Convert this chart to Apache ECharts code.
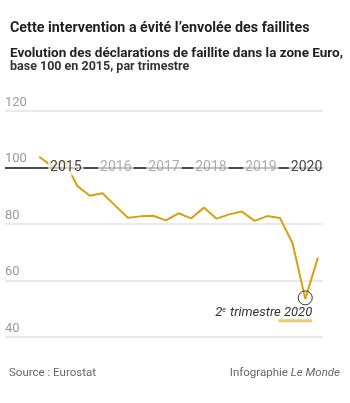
<!DOCTYPE html>
<html>
<head>
<meta charset="utf-8">
<script src="https://cdn.jsdelivr.net/npm/echarts@6/dist/echarts.min.js"></script>
<style>
  html, body { margin: 0; padding: 0; background: #fff; }
  #chart { width: 350px; height: 403px; }
</style>
</head>
<body>
<div id="chart"></div>
<script>
// Indice des déclarations de faillite, base 100 en 2015, par trimestre
const quarters = ['2015T1', '2015T2', '2015T3', '2015T4',
  '2016T1', '2016T2', '2016T3', '2016T4',
  '2017T1', '2017T2', '2017T3', '2017T4',
  '2018T1', '2018T2', '2018T3', '2018T4',
  '2019T1', '2019T2', '2019T3', '2019T4',
  '2020T1', '2020T2', '2020T3'];
const faillites = [103.8, 100.5, 102.3, 93.5,
  90.0, 90.9, 86.5, 82.2,
  82.7, 82.9, 81.3, 83.8,
  82.0, 85.8, 81.9, 83.4,
  84.4, 81.1, 82.8, 82.1,
  73.2, 53.5, 68.1];

// Libellés des années posés sur la ligne 100 (position en trimestres)
const yearLabels = ['2015', '2016', '2017', '2018', '2019', '2020'];
const yearPos = [2.1, 6.05, 9.85, 13.55, 17.5, 21.1];
const yearColors = ['#111', '#999', '#999', '#999', '#999', '#111'];

const yTicks = [40, 60, 80, 100, 120];
const minIndex = 21; // 2e trimestre 2020

const FONT = 'Roboto, sans-serif';
const GOLD = '#d4a20c';

const chart = echarts.init(document.getElementById('chart'));

const lineData = faillites.map((v, i) => [i, v]);
const yearData = yearLabels.map((y, i) => ({
  name: y,
  value: [yearPos[i], 100],
  label: { color: yearColors[i] }
}));

chart.setOption({
  animation: false,
  title: [
    {
      text: 'Cette intervention a évité l\u2019envolée des faillites',
      left: 5, top: 16,
      textStyle: { fontFamily: FONT, fontSize: 14.3, fontWeight: 'bold', color: '#222' }
    },
    {
      text: '{b|Evolution des déclarations de faillite dans la zone Euro,}\n{r|base 100 en 2015, par trimestre}',
      left: 5, top: 42,
      textStyle: {
        rich: {
          b: { fontFamily: FONT, fontSize: 13.5, fontWeight: 'bold', color: '#222', lineHeight: 13.5 },
          r: { fontFamily: FONT, fontSize: 12.5, color: '#333', lineHeight: 13.5 }
        }
      }
    },
    {
      text: 'Source : Eurostat',
      left: 4, top: 362,
      textStyle: { fontFamily: FONT, fontSize: 11.5, fontWeight: 'normal', color: '#666' }
    },
    {
      text: 'Infographie {i|Le Monde}',
      right: 5, top: 362,
      textStyle: {
        fontFamily: FONT, fontSize: 11.5, fontWeight: 'normal', color: '#666',
        rich: { i: { fontFamily: FONT, fontSize: 11.5, fontStyle: 'italic', color: '#666' } }
      }
    }
  ],
  grid: { left: 5, right: 27, top: 111, bottom: 66 },
  xAxis: {
    type: 'value',
    min: -2.7, max: 22.4,
    show: false
  },
  yAxis: {
    type: 'value',
    min: 40, max: 120, interval: 20,
    axisLine: { show: false },
    axisTick: { show: false },
    axisLabel: {
      inside: true,
      margin: 0,
      verticalAlign: 'bottom',
      padding: [0, 0, 2, 0],
      fontFamily: FONT,
      fontSize: 13,
      color: v => (v === 100 ? '#111' : '#999')
    },
    splitLine: {
      lineStyle: {
        width: 1.5,
        color: yTicks.map(t => (t === 100 ? '#111' : '#e3e3e3'))
      }
    }
  },
  series: [
    {
      type: 'line',
      data: lineData,
      symbol: 'none',
      z: 2,
      lineStyle: { color: GOLD, width: 2 },
      markPoint: {
        silent: true,
        data: [
          {
            coord: [minIndex, faillites[minIndex]],
            symbol: 'circle',
            symbolSize: 14,
            symbolOffset: [0, -1],
            itemStyle: { color: 'rgba(0,0,0,0)', borderColor: '#333', borderWidth: 1 },
            label: { show: false }
          },
          {
            coord: [minIndex, faillites[minIndex]],
            symbol: 'rect',
            symbolSize: [34, 3],
            symbolOffset: [-10, 22],
            itemStyle: { color: '#e8cb72' },
            label: { show: false }
          },
          {
            coord: [minIndex, faillites[minIndex]],
            symbol: 'circle',
            symbolSize: 0,
            label: {
              show: true,
              position: 'inside',
              align: 'right',
              offset: [7, 14],
              formatter: '{a|2}{s|e}{a| trimestre 2020}',
              rich: {
                a: { fontFamily: FONT, fontSize: 13, fontStyle: 'italic', color: '#333' },
                s: { fontFamily: FONT, fontSize: 7, fontStyle: 'italic', color: '#333', verticalAlign: 'top', padding: [0, 1, 6, 0] }
              }
            }
          }
        ]
      }
    },
    {
      type: 'scatter',
      data: yearData,
      symbolSize: 0,
      z: 3,
      silent: true,
      label: {
        show: true,
        position: 'inside',
        formatter: p => p.name,
        fontFamily: FONT,
        fontSize: 14,
        backgroundColor: 'rgba(255,255,255,0.85)',
        padding: [1, 2]
      }
    }
  ]
});
</script>
</body>
</html>
